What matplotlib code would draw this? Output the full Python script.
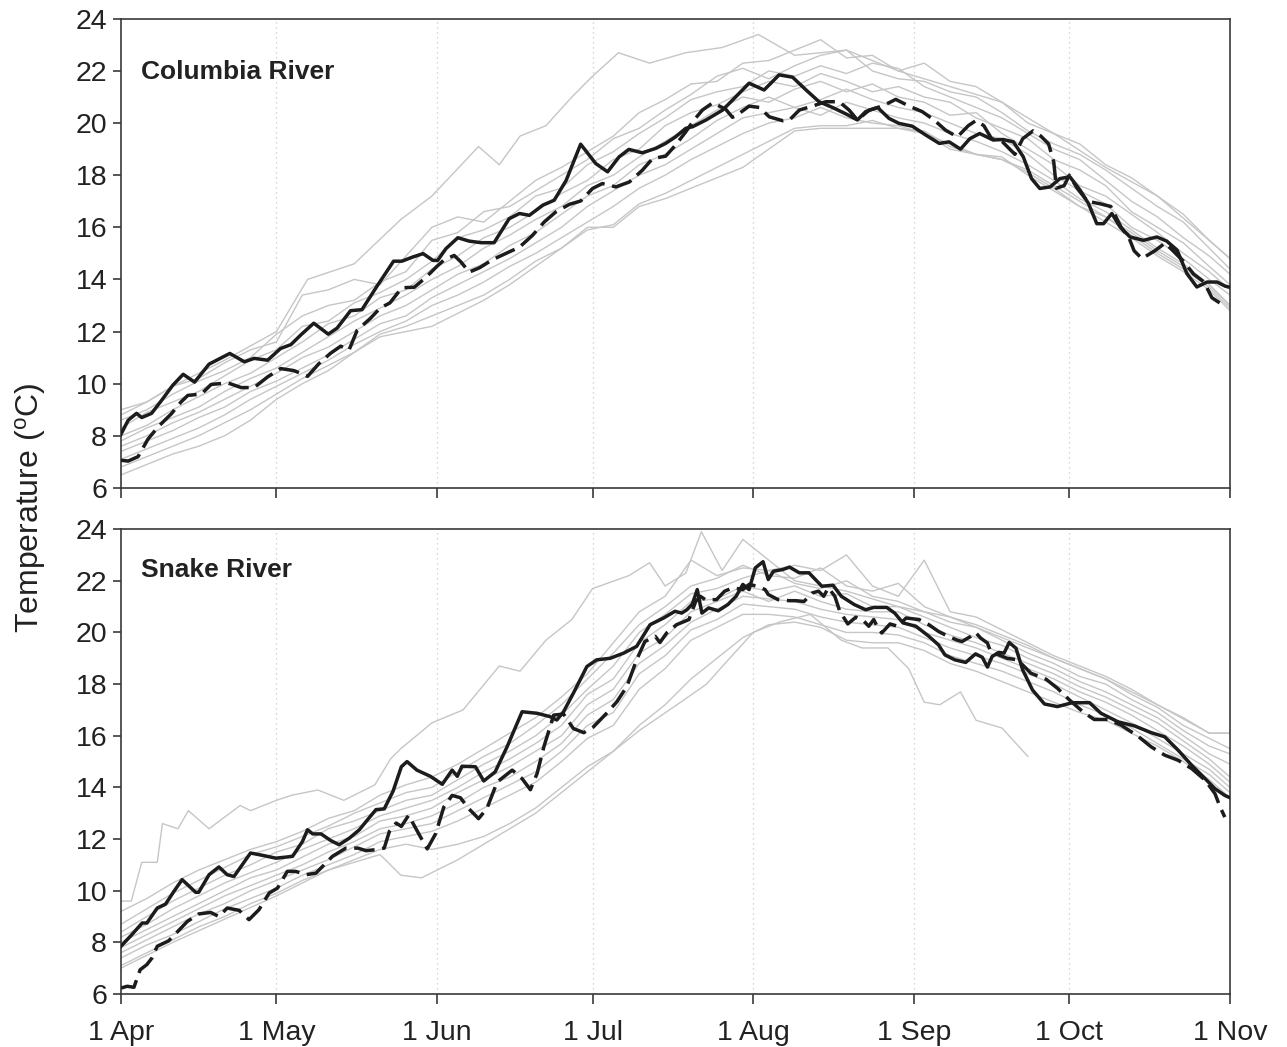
import matplotlib
matplotlib.use('Agg')
import matplotlib.pyplot as plt

plt.rcParams['font.family'] = ['Liberation Sans', 'DejaVu Sans']

# ---------------- data ----------------
MONTH_DAYS = [0, 30, 61, 91, 122, 153, 183, 214]
MONTH_LABELS = ['1 Apr', '1 May', '1 Jun', '1 Jul', '1 Aug', '1 Sep', '1 Oct', '1 Nov']
Y_TICKS = [6, 8, 10, 12, 14, 16, 18, 20, 22, 24]

GRAY_DAYS = list(range(0, 211, 5)) + [214]

# Columbia River - individual years (grey)
COL_OUTLIER_DAYS = [0, 5, 10, 20, 30, 36, 45, 54, 60, 69, 73, 77, 82, 87, 91, 96,
                    102, 109, 116, 123, 130, 140, 150, 160, 170, 180, 190, 200, 210, 214]
COL_OUTLIER_T = [8.8, 9.3, 9.9, 10.9, 12.0, 14.0, 14.6, 16.3, 17.2, 19.1, 18.4, 19.5,
                 19.9, 21.0, 21.8, 22.7, 22.3, 22.7, 22.9, 23.4, 22.6, 22.8, 22.0, 21.4,
                 20.8, 19.6, 18.3, 17.2, 15.5, 14.8]
COL_GRAY = [
    [9.0, 9.3, 9.9, 10.2, 10.8, 11.3, 11.6, 13.4, 13.6, 14.0,
     13.8, 14.9, 16.0, 16.4, 16.2, 17.0, 17.8, 18.3, 18.9, 19.5,
     20.4, 20.9, 21.5, 21.6, 22.3, 22.4, 22.8, 23.2, 22.5, 22.6,
     22.0, 22.3, 21.6, 21.4, 20.8, 20.0, 19.6, 19.2, 18.4, 17.9,
     17.2, 16.5, 15.5, 14.8],
    [8.6, 9.0, 9.6, 10.1, 10.5, 11.0, 11.9, 12.6, 13.0, 13.2,
     13.9, 14.3, 15.5, 15.8, 16.6, 16.8, 17.4, 18.0, 18.6, 19.4,
     19.8, 20.5, 21.1, 21.8, 22.1, 21.7, 22.2, 22.6, 22.8, 22.0,
     21.7, 21.6, 21.2, 21.0, 20.4, 19.7, 19.2, 18.8, 18.2, 17.5,
     16.8, 16.2, 15.2, 14.4],
    [8.3, 8.9, 9.3, 9.7, 10.3, 10.9, 11.3, 12.2, 12.4, 13.1,
     13.5, 14.0, 14.7, 15.6, 15.9, 16.4, 17.2, 17.5, 18.4, 18.9,
     19.6, 20.2, 20.9, 21.2, 21.4, 22.0, 21.8, 22.2, 21.9, 22.3,
     22.1, 21.4, 21.0, 20.6, 20.2, 19.6, 19.0, 18.6, 17.8, 17.0,
     16.4, 15.6, 14.9, 14.2],
    [8.0, 8.4, 9.0, 9.5, 10.0, 10.4, 11.0, 11.6, 12.3, 12.6,
     13.3, 13.6, 14.4, 14.9, 15.6, 16.0, 16.6, 17.3, 17.8, 18.6,
     19.0, 19.9, 20.4, 20.7, 21.2, 21.6, 21.4, 21.9, 21.6, 21.2,
     21.4, 21.0, 20.8, 20.2, 19.8, 19.4, 18.6, 18.2, 17.6, 16.6,
     16.0, 15.4, 14.5, 13.8],
    [7.8, 8.3, 8.7, 9.1, 9.7, 10.2, 10.6, 11.2, 11.8, 12.4,
     12.9, 13.4, 14.0, 14.5, 15.2, 15.7, 16.3, 16.8, 17.6, 18.0,
     18.7, 19.3, 19.9, 20.5, 21.0, 20.8, 21.3, 21.6, 21.2, 21.5,
     21.0, 20.8, 20.3, 20.4, 19.6, 19.0, 18.4, 17.6, 17.2, 16.5,
     15.8, 15.0, 14.3, 13.6],
    [7.6, 8.0, 8.5, 8.9, 9.4, 9.9, 10.4, 11.0, 11.4, 12.0,
     12.6, 13.0, 13.6, 14.2, 14.6, 15.3, 15.8, 16.5, 17.2, 17.6,
     18.4, 18.8, 19.4, 20.1, 20.6, 21.0, 20.6, 20.9, 21.3, 20.9,
     20.6, 20.4, 20.0, 19.6, 19.4, 18.8, 18.0, 17.4, 16.9, 16.0,
     15.5, 14.8, 14.0, 13.4],
    [7.4, 7.8, 8.2, 8.7, 9.1, 9.7, 10.1, 10.6, 11.1, 11.7,
     12.3, 12.6, 13.3, 13.8, 14.3, 14.8, 15.4, 16.0, 16.8, 17.4,
     18.0, 18.4, 19.0, 19.6, 20.2, 20.4, 20.6, 20.3, 20.8, 20.5,
     20.2, 20.0, 19.6, 19.3, 18.9, 18.4, 17.8, 17.1, 16.6, 15.9,
     15.2, 14.6, 13.8, 13.0],
    [7.1, 7.5, 7.9, 8.3, 8.8, 9.4, 9.9, 10.4, 10.9, 11.5,
     12.0, 12.4, 13.0, 13.4, 13.9, 14.5, 15.0, 15.6, 16.2, 16.8,
     17.5, 18.0, 18.6, 19.1, 19.6, 20.0, 20.2, 20.6, 20.2, 20.0,
     19.9, 19.6, 19.2, 18.8, 18.7, 18.0, 17.4, 16.8, 16.4, 15.7,
     15.0, 14.4, 13.7, 12.9],
    [6.8, 7.2, 7.6, 8.0, 8.5, 9.0, 9.6, 10.2, 10.7, 11.2,
     11.9, 12.2, 12.6, 13.0, 13.4, 14.0, 14.7, 15.2, 15.9, 16.1,
     16.9, 17.3, 17.8, 18.3, 18.8, 19.3, 19.8, 19.9, 19.9, 20.1,
     19.8, 19.7, 19.1, 18.8, 18.6, 18.2, 17.6, 17.0, 16.4, 15.8,
     15.1, 14.5, 13.8, 13.0],
    [6.5, 6.9, 7.3, 7.6, 8.0, 8.6, 9.4, 10.0, 10.5, 11.2,
     11.8, 12.0, 12.2, 12.7, 13.2, 13.8, 14.5, 15.2, 16.0, 16.0,
     16.8, 17.1, 17.5, 17.9, 18.3, 19.0, 19.7, 19.8, 19.8, 19.8,
     19.8, 19.6, 19.0, 18.8, 18.6, 18.1, 17.5, 16.8, 16.2, 15.6,
     14.9, 14.3, 13.6, 12.8],
]

# Columbia River - highlighted years
COL_SOLID_DAYS = [0, 1.4, 3, 4, 5.9, 7.8, 10, 12, 14.2, 17, 21, 23.8, 25.7, 28.3, 30.8, 32.8,
                  34.7, 37.2, 40, 41.7, 44.3, 46.5, 49.4, 52.6, 54.2, 56.3, 58.3, 60.2, 61.1,
                  62.7, 65, 67.2, 69.5, 72, 74.9, 76.9, 78.8, 81.4, 83.6, 85.9, 88.7, 91.6,
                  93.9, 96.1, 98, 100.6, 103.2, 105.1, 107, 109, 110.3, 112.9, 116.1, 118,
                  121.2, 124.1, 127, 129.6, 132.2, 134.7, 137.3, 139.9, 142.1, 143.7, 146,
                  148.2, 150.1, 152.7, 155.3, 157.9, 159.8, 162, 163.8, 165.7, 168.3, 170.2,
                  172.2, 174.1, 175.7, 177.3, 179.3, 181.2, 183.1, 185.1, 186.7, 188.3,
                  189.6, 191.2, 192.8, 194.7, 197.3, 199.9, 201.8, 203.8, 205.7, 207.6,
                  209.6, 211.5, 213.1, 214]
COL_SOLID_T = [8.06, 8.6, 8.86, 8.7, 8.86, 9.35, 9.94, 10.36, 10.06, 10.75, 11.16, 10.84,
               10.97, 10.9, 11.35, 11.5, 11.87, 12.32, 11.9, 12.13, 12.8, 12.84, 13.74,
               14.7, 14.7, 14.86, 14.99, 14.73, 14.73, 15.18, 15.6, 15.47, 15.41, 15.41,
               16.33, 16.53, 16.46, 16.85, 17.04, 17.8, 19.19, 18.45, 18.13, 18.7, 18.99,
               18.86, 19.03, 19.22, 19.47, 19.8, 19.86, 20.12, 20.5, 20.88, 21.53, 21.27,
               21.85, 21.76, 21.27, 20.82, 20.6, 20.35, 20.12, 20.44, 20.6, 20.18, 19.99,
               19.88, 19.54, 19.22, 19.28, 19.0, 19.4, 19.6, 19.35, 19.37, 19.28, 18.71,
               17.87, 17.49, 17.55, 17.87, 17.94, 17.42, 16.91, 16.14, 16.14, 16.53, 16.01,
               15.63, 15.5, 15.63, 15.47, 15.12, 14.22, 13.71, 13.9, 13.9, 13.74, 13.7]
COL_DASH_DAYS = [0, 1.4, 3.3, 5.2, 7.2, 9.7, 11.6, 12.9, 15.5, 17.4, 20.6, 23.2, 25.7, 28.3,
                 30.8, 33.4, 36, 38.2, 40.4, 42.4, 44, 45.6, 48.1, 50, 51.9, 54.2, 56.6,
                 58.9, 60.8, 62.4, 64.3, 65.6, 67.2, 69.2, 71.7, 74.3, 76.9, 79.4, 81.7,
                 83.9, 86.5, 88.7, 91, 92.9, 95.5, 98.1, 100.6, 102.6, 105.1, 107, 109,
                 110.5, 112.2, 114.2, 116.7, 118, 119.3, 121.2, 123.2, 125.1, 127.7, 129,
                 130.9, 133.4, 136, 138.6, 140.5, 142.1, 144.4, 146.9, 149.5, 152.1, 154.6,
                 156.9, 159.1, 161.4, 163.5, 165, 166.5, 168, 170, 172.5, 174, 176, 177.5,
                 179, 180, 180.5, 182, 183, 184.5, 186.5, 189, 191, 192, 193, 194.5, 195.5,
                 197, 199.5, 201.5, 203.5, 205, 207, 209, 210.5, 212]
COL_DASH_T = [7.06, 7.03, 7.2, 7.87, 8.35, 8.84, 9.3, 9.55, 9.6, 9.97, 10.03, 9.85, 9.85,
              10.26, 10.58, 10.5, 10.28, 10.77, 11.16, 11.44, 11.29, 12.06, 12.5, 12.9,
              13.1, 13.68, 13.7, 14.09, 14.47, 14.76, 14.92, 14.67, 14.28, 14.45, 14.76,
              15.0, 15.24, 15.69, 16.21, 16.59, 16.88, 17.01, 17.49, 17.68, 17.55, 17.74,
              18.19, 18.64, 18.73, 19.15, 19.67, 20.1, 20.5, 20.78, 20.53, 20.22, 20.37,
              20.65, 20.6, 20.24, 20.09, 20.12, 20.5, 20.65, 20.82, 20.82, 20.5, 20.12,
              20.5, 20.65, 20.91, 20.65, 20.44, 20.12, 19.73, 19.47, 19.9, 20.1, 19.9, 19.4,
              19.3, 18.8, 19.4, 19.7, 19.5, 19.2, 18.5, 17.5, 17.6, 18.0, 17.5, 17.0, 16.9,
              16.8, 16.4, 16.0, 15.6, 15.1, 14.8, 15.1, 15.4, 15.0, 14.7, 14.2, 13.9, 13.3,
              13.1]

# Snake River - individual years (grey)
SNK_OUTLIER_DAYS = [0, 2, 4, 7, 8, 11, 13, 17, 23, 25, 30, 33, 38, 43, 49, 52, 54, 60, 66,
                    73, 77, 82, 87, 91, 98, 102, 105, 109, 112, 116, 120, 130, 140, 150,
                    160, 170, 180, 190, 200, 210, 214]
SNK_OUTLIER_T = [9.6, 9.6, 11.1, 11.1, 12.6, 12.4, 13.1, 12.4, 13.3, 13.1, 13.5, 13.7,
                 13.9, 13.5, 14.1, 15.1, 15.5, 16.5, 17.0, 18.7, 18.5, 19.7, 20.5, 21.7,
                 22.2, 22.7, 21.8, 22.3, 23.9, 22.4, 23.6, 22.0, 21.6, 21.0, 20.6, 19.8,
                 19.0, 18.2, 17.2, 16.1, 16.1]
SNK_SHORT_DAYS = [0, 10, 20, 30, 40, 50, 54, 58, 65, 70, 80, 90, 100, 108, 113, 117, 122,
                  127, 133, 139, 143, 148, 152, 155, 158, 162, 165, 170, 175]
SNK_SHORT_T = [7.0, 8.0, 8.9, 9.8, 10.8, 11.4, 10.6, 10.5, 11.2, 11.8, 13.0, 14.6, 16.2,
               17.3, 18.0, 18.9, 20.0, 20.4, 20.7, 19.7, 19.4, 19.4, 18.6, 17.3, 17.2,
               17.7, 16.6, 16.3, 15.2]
SNK_GRAY = [
    [9.2, 9.7, 10.3, 10.8, 11.2, 11.6, 11.9, 12.3, 12.8, 13.1,
     13.7, 14.1, 14.4, 14.9, 15.5, 16.1, 16.7, 17.5, 18.4, 19.6,
     20.8, 21.4, 22.8, 22.2, 22.5, 22.4, 22.6, 22.4, 23.0, 21.8,
     21.4, 22.8, 20.8, 20.6, 20.1, 19.6, 19.1, 18.7, 18.3, 17.8,
     17.2, 16.7, 16.1, 16.1],
    [8.7, 9.3, 9.9, 10.4, 10.9, 11.4, 11.7, 12.1, 12.5, 13.0,
     13.4, 13.8, 14.0, 14.6, 15.2, 15.7, 16.4, 17.2, 18.2, 19.2,
     20.3, 21.0, 21.8, 22.1, 22.6, 22.2, 22.1, 22.5, 21.8, 21.6,
     21.9, 21.0, 20.6, 20.3, 19.9, 19.5, 19.0, 18.6, 18.2, 17.6,
     17.1, 16.4, 15.9, 15.5],
    [8.4, 9.0, 9.6, 10.1, 10.6, 11.0, 11.5, 11.8, 12.4, 12.7,
     13.1, 13.5, 13.7, 14.3, 14.9, 15.4, 16.0, 16.8, 17.8, 18.7,
     20.0, 20.7, 21.5, 21.7, 22.1, 22.4, 21.9, 21.7, 22.0, 21.4,
     21.2, 20.8, 20.4, 20.2, 19.7, 19.2, 18.8, 18.3, 18.0, 17.4,
     16.9, 16.2, 15.6, 15.3],
    [8.2, 8.7, 9.3, 9.8, 10.3, 10.7, 11.1, 11.6, 12.0, 12.4,
     12.9, 13.2, 13.5, 14.0, 14.6, 15.1, 15.7, 16.4, 17.6, 18.2,
     19.6, 20.3, 21.2, 21.3, 21.8, 21.6, 21.8, 21.4, 21.5, 21.0,
     21.0, 20.6, 20.2, 19.8, 19.5, 19.0, 18.6, 18.1, 17.7, 17.2,
     16.7, 16.0, 15.3, 14.9],
    [8.0, 8.5, 9.0, 9.5, 10.0, 10.5, 10.8, 11.3, 11.8, 12.1,
     12.7, 12.9, 13.2, 13.8, 14.3, 14.8, 15.4, 16.0, 17.2, 17.8,
     19.2, 19.8, 20.8, 21.2, 21.6, 21.2, 21.6, 21.2, 20.9, 20.8,
     20.8, 20.3, 19.9, 19.6, 19.2, 18.8, 18.4, 17.9, 17.5, 17.0,
     16.5, 15.8, 15.1, 14.4],
    [7.8, 8.3, 8.8, 9.3, 9.8, 10.2, 10.6, 11.0, 11.5, 11.9,
     12.4, 12.6, 12.9, 13.4, 14.0, 14.4, 15.0, 15.7, 16.8, 17.4,
     18.8, 19.5, 20.4, 20.9, 21.4, 21.3, 21.2, 20.9, 20.7, 20.6,
     20.5, 20.0, 19.7, 19.4, 19.0, 18.6, 18.2, 17.7, 17.3, 16.8,
     16.2, 15.6, 14.9, 14.2],
    [7.6, 8.1, 8.6, 9.1, 9.5, 10.0, 10.4, 10.8, 11.2, 11.7,
     12.2, 12.4, 12.6, 13.1, 13.6, 14.1, 14.6, 15.4, 16.4, 16.9,
     18.4, 19.1, 20.1, 20.5, 21.1, 21.0, 20.9, 20.6, 20.4, 20.3,
     20.2, 19.8, 19.4, 19.1, 18.8, 18.4, 18.0, 17.5, 17.0, 16.5,
     15.9, 15.3, 14.7, 14.0],
    [7.4, 7.9, 8.3, 8.8, 9.3, 9.7, 10.1, 10.6, 11.0, 11.4,
     11.9, 12.1, 12.3, 12.7, 13.2, 13.7, 14.2, 15.0, 15.9, 16.4,
     17.8, 18.6, 19.7, 20.2, 20.7, 20.7, 20.6, 20.3, 20.0, 20.0,
     19.9, 19.6, 19.1, 18.8, 18.5, 18.1, 17.7, 17.2, 16.8, 16.3,
     15.7, 15.1, 14.5, 13.8],
    [7.1, 7.6, 8.1, 8.6, 9.0, 9.5, 9.9, 10.4, 10.8, 11.2,
     11.6, 11.8, 11.6, 11.8, 12.1, 12.6, 13.2, 14.0, 14.8, 15.4,
     16.4, 17.2, 18.2, 19.0, 19.8, 20.3, 20.4, 20.2, 19.7, 19.6,
     19.6, 19.3, 18.8, 18.5, 18.1, 17.7, 17.3, 16.9, 16.6, 16.1,
     15.6, 15.0, 14.3, 13.6],
]

# Snake River - highlighted years
SNK_SOLID_DAYS = [0, 2.1, 4.1, 5, 7, 8.6, 10.2, 11.8, 14.4, 15, 17, 18.9, 20.5, 21.8, 25,
                  27.3, 29.9, 33.1, 35, 36, 37, 38.6, 40.5, 42.1, 44.1, 46, 47.3, 49.2,
                  50.8, 52.5, 54.1, 55.2, 57.1, 59.7, 62, 63.9, 64.9, 65.8, 68.4, 70, 72.2,
                  74.5, 77.4, 80.3, 82.8, 84.1, 85.4, 87.3, 89.9, 91.8, 94.4, 97, 99.5,
                  102.1, 104.7, 106.9, 108.2, 109.2, 110.25, 111.2, 112.1, 113.4, 115.25,
                  117.1, 118.7, 120, 121.2, 122.4, 123.9, 124.9, 125.9, 127.75, 129, 130.9,
                  132.75, 135.25, 137.4, 139, 141.5, 143.7, 145.25, 147.75, 149.3, 150.9,
                  153.4, 155.9, 157.75, 159, 160.9, 163, 164.9, 166.2, 167.2, 168.1, 169.4,
                  170.4, 171.4, 172.7, 174, 175.9, 178.2, 180.7, 183.6, 186.9, 189.1, 192.4,
                  195.6, 198.8, 201.4, 204, 206.6, 209.2, 211.1, 213, 214]
SNK_SOLID_T = [7.85, 8.3, 8.75, 8.75, 9.33, 9.48, 9.97, 10.43, 9.94, 9.94, 10.62, 10.92,
               10.62, 10.55, 11.46, 11.37, 11.26, 11.33, 11.9, 12.36, 12.2, 12.2, 11.94,
               11.78, 12.04, 12.36, 12.68, 13.14, 13.17, 13.85, 14.8, 15.0, 14.67, 14.43,
               14.12, 14.67, 14.43, 14.82, 14.8, 14.25, 14.6, 15.57, 16.93, 16.87, 16.74,
               16.61, 16.93, 17.65, 18.68, 18.94, 19.0, 19.2, 19.46, 20.3, 20.56, 20.82,
               20.75, 20.88, 21.1, 21.66, 20.75, 20.95, 20.84, 21.08, 21.4, 21.86, 21.66,
               22.5, 22.74, 22.05, 22.37, 22.44, 22.53, 22.31, 22.31, 21.79, 21.83, 21.4,
               21.08, 20.88, 20.97, 20.97, 20.75, 20.37, 20.24, 19.85, 19.52, 19.13, 18.94,
               18.84, 19.17, 19.04, 18.66, 19.07, 19.23, 19.2, 19.61, 19.39, 18.55, 17.77,
               17.23, 17.13, 17.28, 17.28, 16.87, 16.54, 16.38, 16.12, 15.96, 15.44, 14.86,
               14.34, 13.95, 13.69, 13.6]
SNK_DASH_DAYS = [0, 1.2, 2.5, 3.7, 5, 6, 7, 9.2, 10.8, 12.8, 15, 17.3, 18.9, 20.5, 22.8,
                 24.7, 26.6, 28.6, 30.2, 32.1, 33.7, 35.7, 37.6, 38.9, 40.8, 43.4, 45.7,
                 47.3, 49.2, 50.8, 51.8, 53.1, 54.1, 55.5, 57.8, 59.1, 60.7, 62.3, 63.9,
                 65.5, 67.1, 69, 70.6, 72.6, 75.5, 77.4, 79, 80.3, 81.6, 83.5, 85.4, 87.3,
                 89.3, 91.2, 93.8, 95.7, 97.6, 99.5, 101.1, 103.1, 104, 105.3, 107.2, 109.6,
                 110.9, 111.8, 112.75, 114.9, 116.5, 118.1, 120, 121.2, 122.75, 124.3, 124.9,
                 126.8, 129, 130.25, 131.8, 133.4, 134.6, 135.6, 136.5, 137.75, 138.7,
                 140.25, 141.8, 143.4, 144.3, 145.25, 145.9, 146.8, 148.4, 149.9, 151.5,
                 154, 155.9, 157.75, 159.6, 161.4, 162.3, 164, 164.9, 165.9, 167.2, 167.8,
                 171, 173, 175.6, 178.5, 180.7, 183, 185.6, 187.8, 190.4, 193, 196.2, 198.8,
                 201.4, 204, 206.6, 209.2, 211.1, 212.1, 213]
SNK_DASH_T = [6.23, 6.3, 6.26, 6.94, 7.14, 7.4, 7.85, 8.06, 8.39, 8.81, 9.1, 9.16, 9.0,
              9.33, 9.24, 8.88, 9.26, 9.91, 10.1, 10.75, 10.75, 10.62, 10.68, 10.94, 11.33,
              11.65, 11.65, 11.55, 11.59, 11.65, 12.3, 12.62, 12.49, 12.92, 12.08, 11.62,
              12.2, 13.24, 13.69, 13.6, 13.18, 12.79, 13.18, 14.21, 14.67, 14.34, 13.91,
              14.54, 15.57, 16.8, 16.84, 16.28, 16.12, 16.35, 16.89, 17.32, 17.9, 18.94,
              19.65, 19.85, 19.61, 19.98, 20.3, 20.5, 21.2, 21.4, 21.27, 21.27, 21.6, 21.73,
              21.66, 21.86, 21.79, 21.66, 21.47, 21.27, 21.23, 21.23, 21.2, 21.53, 21.6,
              21.4, 21.73, 21.4, 20.82, 20.33, 20.59, 20.43, 20.24, 20.5, 20.24, 19.98,
              20.33, 20.24, 20.56, 20.5, 20.3, 20.04, 19.85, 19.7, 19.65, 19.85, 20.0,
              19.78, 19.59, 19.26, 19.0, 18.94, 18.42, 18.19, 17.84, 17.39, 16.93, 16.63,
              16.63, 16.41, 15.99, 15.57, 15.25, 15.05, 14.73, 14.28, 13.76, 13.24, 12.85]

PANEL_TITLES = ['Columbia River', 'Snake River']
Y_LABEL = 'Temperature ($\\mathregular{^{o}}$C)'

# ---------------- style ----------------
GRAY = '#c6c6c6'
BLACK = '#1c1c1c'
SPINE = '#3a3a3a'

fig = plt.figure(figsize=(12.87, 10.47), dpi=100)
ax_top = fig.add_axes([0.094, 0.534, 0.8617, 0.448])
ax_bot = fig.add_axes([0.094, 0.0506, 0.8617, 0.444])

panels = [
    (ax_top, COL_OUTLIER_DAYS, COL_OUTLIER_T, COL_GRAY, [], COL_SOLID_DAYS, COL_SOLID_T,
     COL_DASH_DAYS, COL_DASH_T, 0.887),
    (ax_bot, SNK_OUTLIER_DAYS, SNK_OUTLIER_T, SNK_GRAY, [(SNK_SHORT_DAYS, SNK_SHORT_T)],
     SNK_SOLID_DAYS, SNK_SOLID_T, SNK_DASH_DAYS, SNK_DASH_T, 0.912),
]

for i, (ax, od, ot, grays, extra, sd, st, dd, dt, ty) in enumerate(panels):
    for m in MONTH_DAYS[1:-1]:
        ax.axvline(m, color='#c8c8c8', lw=0.9, ls=(0, (1, 3)), zorder=0)
    for g in grays:
        ax.plot(GRAY_DAYS, g, color=GRAY, lw=1.0, zorder=1)
    ax.plot(od, ot, color=GRAY, lw=1.0, zorder=1)
    for ed, et in extra:
        ax.plot(ed, et, color=GRAY, lw=1.0, zorder=1)
    ax.plot(sd, st, color=BLACK, lw=2.5, zorder=3, solid_joinstyle='round')
    ax.plot(dd, dt, color=BLACK, lw=2.5, zorder=3, dashes=(6.0, 2.2), dash_capstyle='butt')

    ax.set_xlim(0, 214)
    ax.set_ylim(6, 24)
    ax.set_yticks(Y_TICKS)
    ax.set_xticks(MONTH_DAYS)
    if i == 0:
        ax.set_xticklabels([])
    else:
        ax.set_xticklabels(MONTH_LABELS)
    ax.tick_params(axis='both', direction='out', color=SPINE, width=1.2,
                   labelsize=20.5, labelcolor='#222222')
    ax.tick_params(axis='x', length=7, pad=12)
    ax.tick_params(axis='y', length=6, pad=4)
    for sp in ax.spines.values():
        sp.set_color(SPINE)
        sp.set_linewidth(1.2)
    ax.text(0.018, ty, PANEL_TITLES[i], transform=ax.transAxes, fontsize=19,
            fontweight='bold', color='#222222', va='center', ha='left')

fig.text(0.024, 0.515, Y_LABEL, rotation=90, fontsize=23, color='#222222',
         va='center', ha='center')

fig.savefig('out.png', dpi=100)
